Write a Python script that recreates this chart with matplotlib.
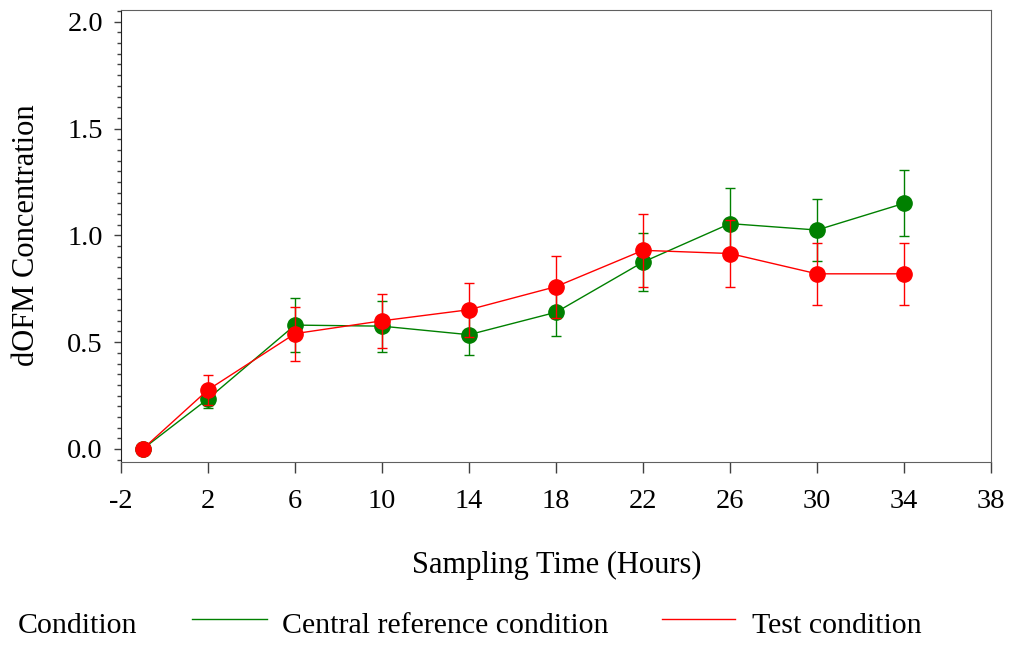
import matplotlib
matplotlib.use("Agg")
import matplotlib.pyplot as plt
from matplotlib.lines import Line2D
from matplotlib.ticker import MultipleLocator, FormatStrFormatter

plt.rcParams['font.family'] = ['Liberation Serif', 'DejaVu Serif']
plt.rcParams['axes.unicode_minus'] = False

hours = [-1, 2, 6, 10, 14, 18, 22, 26, 30, 34]

central_mean = [0.00, 0.235, 0.58, 0.575, 0.535, 0.64, 0.875, 1.055, 1.025, 1.15]
central_err = [0.00, 0.045, 0.125, 0.12, 0.095, 0.11, 0.135, 0.165, 0.145, 0.155]

test_mean = [0.00, 0.277, 0.54, 0.60, 0.652, 0.76, 0.93, 0.915, 0.82, 0.82]
test_err = [0.00, 0.07, 0.127, 0.125, 0.127, 0.145, 0.17, 0.158, 0.145, 0.145]

series_labels = ["Central reference condition", "Test condition"]
series_colors = ["#008000", "#ff0000"]
legend_title = "Condition"

W, H = 1018, 650
fig = plt.figure(figsize=(W / 100, H / 100), dpi=100)
ax = fig.add_axes([121 / W, 1 - 461.7 / H, (991 - 121) / W, (461.7 - 10) / H])

for mean, err, color, z in [(central_mean, central_err, series_colors[0], 2),
                            (test_mean, test_err, series_colors[1], 3)]:
    ax.errorbar(hours, mean, yerr=err, color=color, ecolor=color,
                elinewidth=1.0, capsize=3.8, capthick=1.0, lw=1.0,
                marker='o', markersize=11, markeredgecolor=color, zorder=z)

ax.set_xlim(-2, 38)
ax.set_ylim(-0.0595, 2.055)
ax.set_xticks(range(-2, 39, 4))
ax.yaxis.set_major_locator(MultipleLocator(0.5))
ax.yaxis.set_minor_locator(MultipleLocator(0.05))
ax.yaxis.set_major_formatter(FormatStrFormatter('%.1f'))

ax.tick_params(axis='both', which='major', labelsize=20.5, direction='out',
               width=1, color='#404040')
ax.tick_params(axis='y', which='major', length=5, pad=8)
ax.tick_params(axis='y', which='minor', direction='out', length=3, width=1, color='#404040')
ax.tick_params(axis='x', which='major', length=8, pad=11.5)

for side in ['top', 'right', 'bottom']:
    ax.spines[side].set_color('#606060')
ax.spines['left'].set_color('#202020')

# axis titles
fig.text(557 / W, 1 - 573 / H, "Sampling Time (Hours)", fontsize=22,
         ha='center', va='baseline')
fig.text(27 / W, 1 - 235 / H, "dOFM Concentration", fontsize=22,
         ha='center', va='center', rotation=90)

# legend row along the bottom
base_y = 1 - 633 / H
line_y = 1 - 619 / H
fig.text(18 / W, base_y, legend_title, fontsize=21.5, ha='left', va='baseline')
entries = [(192, 267, 282), (662, 735, 752)]
for (x0, x1, tx), color, label in zip(entries, series_colors, series_labels):
    fig.add_artist(Line2D([x0 / W, x1 / W], [line_y, line_y], color=color, lw=1.0,
                          transform=fig.transFigure))
    fig.text(tx / W, base_y, label, fontsize=21.5, ha='left', va='baseline')

fig.savefig("out.png", dpi=100)
